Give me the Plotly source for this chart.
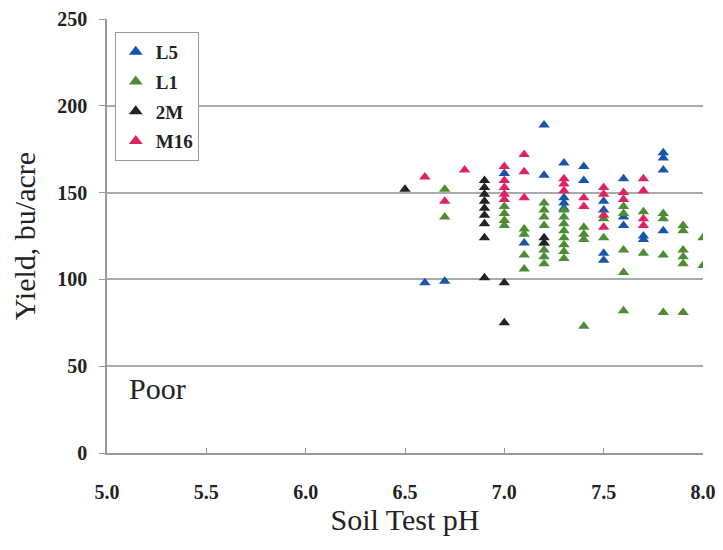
import plotly.graph_objects as go

# L5 (blue)
l5_ph = [6.6, 6.7, 7.0, 7.1, 7.2, 7.2, 7.3, 7.3, 7.3, 7.3, 7.4, 7.4, 7.5, 7.5, 7.5, 7.5,
         7.6, 7.6, 7.6, 7.7, 7.7, 7.8, 7.8, 7.8, 7.8]
l5_yield = [98, 99, 161, 121, 189, 160, 167, 147, 144, 141, 165, 157, 145, 140, 115, 111,
            158, 136, 131, 125, 123, 173, 170, 163, 128]

# L1 (green)
l1_ph = [6.7, 6.7, 7.0, 7.0, 7.0, 7.0, 7.1, 7.1, 7.1, 7.1,
         7.2, 7.2, 7.2, 7.2, 7.2, 7.2, 7.2, 7.2,
         7.3, 7.3, 7.3, 7.3, 7.3, 7.3, 7.3, 7.3,
         7.4, 7.4, 7.4, 7.4, 7.5, 7.5,
         7.6, 7.6, 7.6, 7.6, 7.6, 7.7, 7.7,
         7.8, 7.8, 7.8, 7.8, 7.9, 7.9, 7.9, 7.9, 7.9, 7.9, 8.0, 8.0]
l1_yield = [152, 136, 142, 138, 134, 131, 129, 126, 114, 106,
            144, 140, 136, 131, 121, 117, 113, 109,
            140, 136, 132, 128, 124, 120, 116, 112,
            130, 126, 123, 73, 135, 124,
            142, 138, 117, 104, 82, 139, 115,
            138, 135, 114, 81, 131, 128, 117, 113, 109, 81, 124, 108]

# 2M (black)
m2_ph = [6.5, 6.9, 6.9, 6.9, 6.9, 6.9, 6.9, 6.9, 6.9, 6.9, 7.0, 7.0, 7.2, 7.2]
m2_yield = [152, 157, 153, 149, 145, 141, 137, 132, 124, 101, 98, 75, 124, 121]

# M16 (pink)
m16_ph = [6.6, 6.7, 6.8, 7.0, 7.0, 7.0, 7.0, 7.0, 7.1, 7.1, 7.1, 7.3, 7.3, 7.3,
          7.4, 7.4, 7.5, 7.5, 7.5, 7.5, 7.6, 7.6, 7.7, 7.7, 7.7, 7.7]
m16_yield = [159, 145, 163, 165, 157, 153, 149, 146, 172, 162, 147, 158, 155, 151,
             147, 142, 153, 149, 137, 130, 150, 146, 158, 151, 135, 131]

x_ticks = [5.0, 5.5, 6.0, 6.5, 7.0, 7.5, 8.0]
x_tick_labels = ["5.0", "5.5", "6.0", "6.5", "7.0", "7.5", "8.0"]
y_ticks = [0, 50, 100, 150, 200, 250]

series = [
    ("L5", l5_ph, l5_yield, "#1a55ad"),
    ("L1", l1_ph, l1_yield, "#4c8c33"),
    ("2M", m2_ph, m2_yield, "#222222"),
    ("M16", m16_ph, m16_yield, "#e0225e"),
]

fig = go.Figure()
for name, xs, ys, col in series:
    fig.add_trace(go.Scatter(
        x=xs, y=ys, mode="markers", name=name, legendgroup=name,
        marker=dict(symbol="triangle-up", size=10, color=col),
    ))

serif = "Liberation Serif, Times New Roman, serif"

fig.update_layout(
    width=715, height=542,
    margin=dict(l=99, r=20, t=11, b=97, autoexpand=False),
    paper_bgcolor="white", plot_bgcolor="white",
    font=dict(family=serif, color="#222222"),
    showlegend=True,
    legend=dict(
        x=0.013, y=0.97, xanchor="left", yanchor="top",
        bordercolor="#999999", borderwidth=1, bgcolor="white",
        font=dict(family=serif, size=19, color="#222222", weight="bold"),
        itemsizing="constant", tracegroupgap=2, itemwidth=30,
    ),
    xaxis=dict(
        range=[5.0, 8.0], tickvals=x_ticks, ticktext=x_tick_labels,
        showgrid=False, zeroline=False, automargin=False,
        showline=True, linecolor="#999999", linewidth=1.5,
        ticks="inside", ticklen=5, tickcolor="#999999",
        ticklabelstandoff=20,
        tickfont=dict(family=serif, size=20, color="#222222", weight="bold"),
        title=dict(text="Soil Test pH", font=dict(family=serif, size=30, color="#222222"), standoff=6),
    ),
    yaxis=dict(
        range=[0, 250], tickvals=y_ticks,
        showgrid=True, gridcolor="#aaaaaa", gridwidth=2, zeroline=False, automargin=False,
        showline=True, linecolor="#999999", linewidth=1.5,
        ticks="outside", ticklen=6, tickcolor="#999999",
        ticklabelstandoff=8,
        tickfont=dict(family=serif, size=20, color="#222222", weight="bold"),
        title=dict(text="Yield, bu/acre", font=dict(family=serif, size=30, color="#222222"), standoff=14),
    ),
    annotations=[dict(
        x=5.1, y=37, xref="x", yref="y", text="Poor", showarrow=False,
        xanchor="left", yanchor="middle",
        font=dict(family=serif, size=30, color="#222222"),
    )],
)

fig.write_html("out.html")
